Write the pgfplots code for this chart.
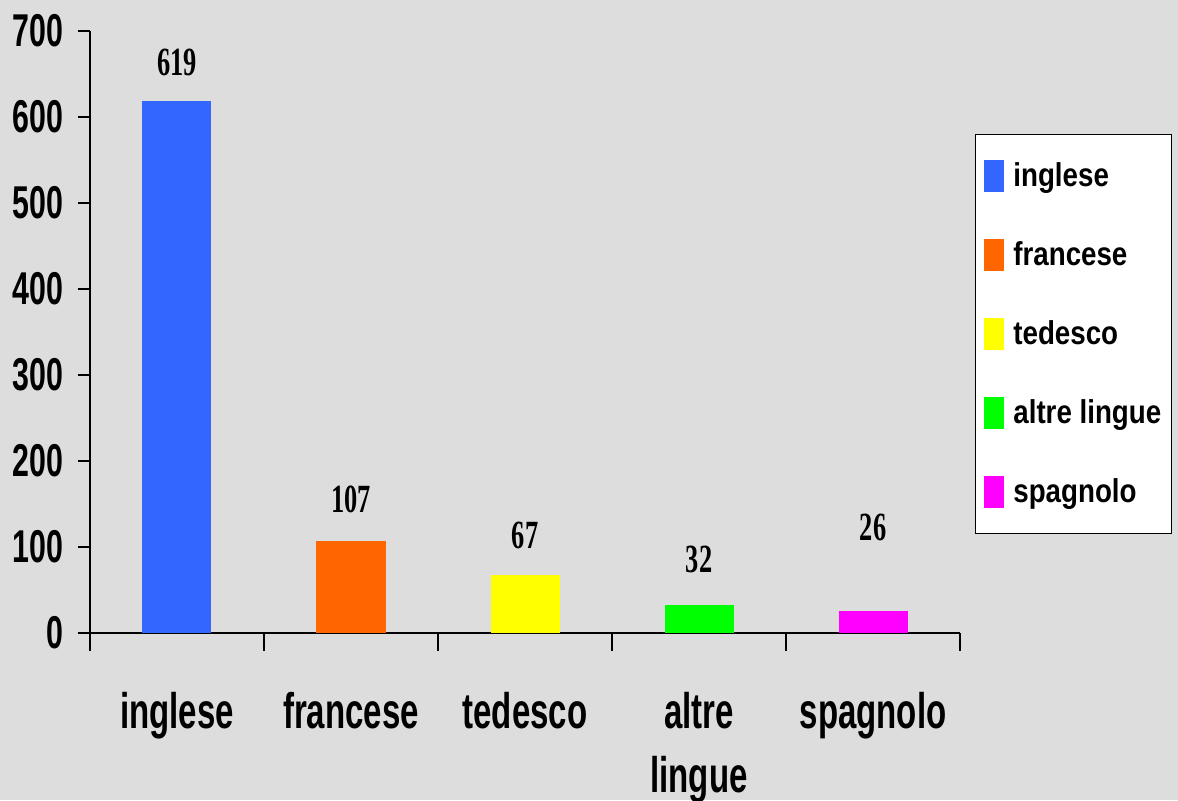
\documentclass[border=0pt]{standalone}
\usepackage{fontspec}
\setmainfont{Liberation Sans}
\newfontfamily\narrow[FakeStretch=0.66]{Liberation Sans}
\newfontfamily\legfont[FakeStretch=0.84]{Liberation Sans}
\newfontfamily\timesc[FakeStretch=0.66]{Liberation Serif}
\usepackage{pgfplots}
\pgfplotsset{compat=1.18}
\definecolor{bg}{HTML}{DDDDDD}
\definecolor{cblue}{HTML}{3366FF}
\definecolor{corange}{HTML}{FF6600}
\definecolor{cyellow}{HTML}{FFFF00}
\definecolor{cgreen}{HTML}{00FF00}
\definecolor{cmag}{HTML}{FF00FF}
\begin{document}
\begin{tikzpicture}
\fill[bg] (0,0) rectangle (589pt,400pt);
\begin{axis}[
  at={(45pt,83.5pt)}, anchor=south west,
  scale only axis, width=435pt, height=301pt,
  xmin=-0.5, xmax=4.5, ymin=0, ymax=700,
  axis lines*=left, axis line style={black, line width=0.7pt},
  ybar, bar width=34.5pt,
  xtick={0,1,2,3,4},
  xticklabels={inglese,francese,tedesco,{altre\\lingue},spagnolo},
  major x tick style={draw=none},
  minor xtick={-0.5,0.5,1.5,2.5,3.5,4.5},
  minor tick length=9pt,
  minor x tick style={black, line width=0.7pt},
  ytick={0,100,...,700},
  major tick length=6pt,
  tick align=outside,
  ytick style={black, line width=0.7pt},
  /pgf/number format/assume math mode=true,
  yticklabel style={font=\narrow\bfseries\fontsize{23}{23}\selectfont, xshift=-4pt},
  xticklabel style={font=\narrow\bfseries\fontsize{25}{32}\selectfont, align=center, yshift=-20pt, anchor=north},
  legend style={at={(1.017,0.829)}, anchor=north west, draw=black, fill=white,
    font=\legfont\bfseries\fontsize{16.5}{16.5}\selectfont, row sep=22pt, inner xsep=3pt, inner ysep=12pt,
    line width=0.6pt, cells={anchor=west}},
  legend image code/.code={\fill[#1] (1.5pt,-8pt) rectangle (11.5pt,8pt); \path (0pt,0pt) (14pt,0pt);},
  clip=false,
]
\addplot[fill=cblue, draw=none, bar shift=0pt] coordinates {(0,619)};
\addplot[fill=corange, draw=none, bar shift=0pt] coordinates {(1,107)};
\addplot[fill=cyellow, draw=none, bar shift=0pt] coordinates {(2,67)};
\addplot[fill=cgreen, draw=none, bar shift=0pt] coordinates {(3,32)};
\addplot[fill=cmag, draw=none, bar shift=0pt] coordinates {(4,26)};
\legend{inglese,francese,tedesco,altre lingue,spagnolo}
\begin{scope}[every node/.style={font=\timesc\bfseries\fontsize{20}{20}\selectfont}]
\node at (axis cs:0,664) {619};
\node at (axis cs:1,155) {107};
\node at (axis cs:2,114) {67};
\node at (axis cs:3,85) {32};
\node at (axis cs:4,123) {26};
\end{scope}
\end{axis}
\pgfresetboundingbox
\path (0,0) rectangle (589pt,400pt);
\end{tikzpicture}
\end{document}
